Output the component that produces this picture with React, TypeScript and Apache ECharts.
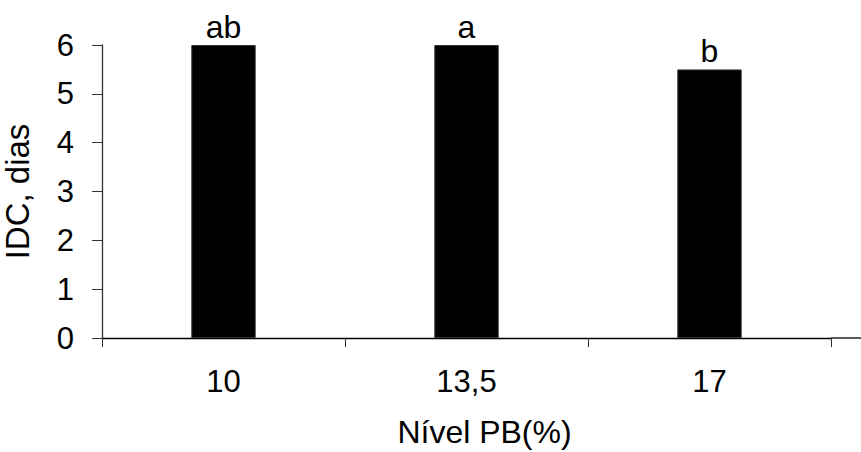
import React, { useEffect, useRef } from "react";
import * as echarts from "echarts";

const categories = ["10", "13,5", "17"];
const idcValues = [6, 6, 5.5];
const letters = ["ab", "a", "b"];
const yTicks = [0, 1, 2, 3, 4, 5, 6];

const FONT = "'Liberation Sans', Arial, sans-serif";

export default function App() {
  const ref = useRef<HTMLDivElement>(null);
  useEffect(() => {
    if (!ref.current) return;
    const chart = echarts.init(ref.current, undefined, { renderer: "svg" });
    const gridLeft = 102;
    const gridRight = 30;
    const gridTop = 45;
    const gridBottom = 114;
    chart.setOption({
      animation: false,
      backgroundColor: "#ffffff",
      grid: {
        left: gridLeft,
        top: gridTop,
        bottom: gridBottom,
        right: gridRight,
        containLabel: false,
        outerBoundsMode: "none",
      },
      xAxis: {
        type: "category",
        data: categories,
        name: "Nível PB(%)",
        nameLocation: "middle",
        nameGap: 78,
        nameTextStyle: {
          fontFamily: FONT,
          fontSize: 32,
          lineHeight: 32,
          color: "#000",
          padding: [0, 0, 0, 36],
        },
        axisLine: { lineStyle: { color: "#000", width: 1.3 } },
        axisTick: { show: true, length: 9, lineStyle: { color: "#333" } },
        axisLabel: { fontFamily: FONT, fontSize: 31, color: "#000", margin: 28 },
        splitLine: { show: false },
      },
      yAxis: {
        type: "value",
        min: yTicks[0],
        max: yTicks[yTicks.length - 1],
        interval: 1,
        name: "IDC, dias",
        nameLocation: "middle",
        nameGap: 68,
        nameTextStyle: { fontFamily: FONT, fontSize: 33, color: "#000" },
        axisLine: { show: true, lineStyle: { color: "#333", width: 1.3 } },
        axisTick: { show: true, length: 10, lineStyle: { color: "#333" } },
        axisLabel: { fontFamily: FONT, fontSize: 31, color: "#000", margin: 28 },
        splitLine: { show: false },
      },
      graphic: [
        {
          type: "line",
          silent: true,
          shape: { x1: 861 - gridRight, y1: 452 - gridBottom, x2: 861, y2: 452 - gridBottom },
          style: { stroke: "#000", lineWidth: 1.3 },
        },
      ],
      series: [
        {
          type: "bar",
          data: idcValues,
          barWidth: "26.5%",
          itemStyle: { color: "#000", borderColor: "#333", borderWidth: 1 },
          label: {
            show: true,
            position: "top",
            distance: 2,
            fontFamily: FONT,
            fontSize: 32,
            color: "#000",
            formatter: (p: any) => letters[p.dataIndex],
          },
        },
      ],
    });
    return () => chart.dispose();
  }, []);
  return (
    <div
      ref={ref}
      style={{ position: "fixed", left: 0, top: 0, width: 861, height: 452 }}
    />
  );
}
